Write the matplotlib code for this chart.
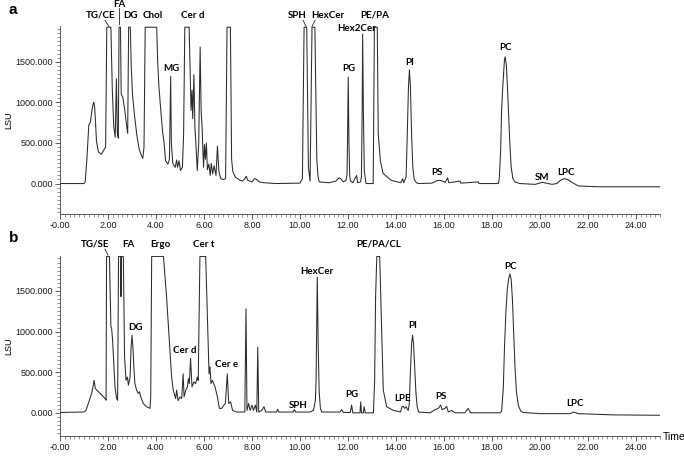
import matplotlib
matplotlib.use('Agg')
import matplotlib.pyplot as plt
from matplotlib.ticker import MultipleLocator, FixedLocator, FixedFormatter

# detector ceiling (flat-topped peaks)
SAT = 1925

# panel a trace: (time in min, LSU)
trace_a = [
    (0.0, 0), (1.0, 0), (1.05, 20), (1.12, 300), (1.2, 720), (1.27, 760), (1.33, 900),
    (1.38, 980), (1.41, 1000), (1.44, 950), (1.48, 760), (1.52, 520), (1.6, 390), (1.72, 360),
    (1.82, 410), (1.9, 450),
    (1.95, SAT), (2.12, SAT), (2.18, 1150), (2.24, 700), (2.3, 570), (2.35, 1290), (2.39, 620),
    (2.43, 560), (2.46, SAT), (2.52, SAT), (2.55, 1100), (2.62, 1060), (2.7, 900), (2.78, 700),
    (2.82, 620), (2.86, SAT), (2.93, SAT), (2.97, 1430), (3.02, 1100), (3.1, 850), (3.2, 600),
    (3.3, 420), (3.4, 340), (3.45, 310), (3.5, 450), (3.55, SAT), (4.03, SAT), (4.07, 1500),
    (4.12, 1200), (4.2, 900), (4.28, 620), (4.33, 520), (4.4, 280), (4.5, 240), (4.56, 300),
    (4.61, 1320), (4.64, 500), (4.7, 250), (4.8, 200), (4.86, 290), (4.9, 200), (4.96, 280),
    (5.02, 160), (5.1, 200), (5.15, 600), (5.2, SAT), (5.38, SAT), (5.42, 1430), (5.46, 900),
    (5.5, 1150), (5.53, 800), (5.58, 1340), (5.62, 700), (5.66, 500), (5.72, 160), (5.78, 500),
    (5.84, 1680), (5.88, 900), (5.92, 700), (5.98, 200), (6.02, 480), (6.06, 300), (6.1, 500),
    (6.14, 170), (6.2, 240), (6.26, 100), (6.3, 250), (6.36, 120), (6.42, 220), (6.5, 100),
    (6.56, 460), (6.62, 150), (6.7, 60), (6.8, 50), (6.9, 60), (6.96, SAT), (7.1, SAT),
    (7.15, 300), (7.2, 150), (7.3, 80), (7.5, 40), (7.6, 30), (7.7, 60), (7.76, 90), (7.82, 40),
    (8.0, 20), (8.1, 60), (8.2, 50), (8.3, 20), (8.5, 10), (9.0, 0), (10.0, 5), (10.1, 60),
    (10.17, SAT), (10.28, SAT), (10.35, 200), (10.42, 30), (10.5, SAT), (10.62, SAT), (10.7, 300),
    (10.75, 90), (10.8, 20), (11.0, 15), (11.2, 10), (11.5, 30), (11.62, 70), (11.7, 60),
    (11.8, 20), (11.92, 40), (11.96, 120), (11.98, 500), (12.01, 1310), (12.04, 500),
    (12.07, 100), (12.1, 30), (12.2, 10), (12.36, 100), (12.4, 10), (12.52, 20), (12.56, 80),
    (12.59, 900), (12.61, 1840), (12.64, 900), (12.68, 150), (12.75, 0), (13.05, 0),
    (13.1, SAT), (13.22, SAT), (13.26, 610), (13.35, 280), (13.46, 125), (13.8, 40), (14.2, 10),
    (14.28, 60), (14.32, 10), (14.42, 80), (14.47, 600), (14.52, 1200), (14.56, 1400),
    (14.6, 1200), (14.65, 600), (14.7, 200), (14.76, 50), (14.85, 10), (14.95, 0), (15.5, 5),
    (15.7, 35), (15.85, 40), (16.05, 15), (16.15, 70), (16.2, 10), (16.67, 30), (16.7, 5),
    (17.43, 20), (17.46, 0), (18.26, 0), (18.3, 50), (18.36, 400), (18.4, 900), (18.44, 1150),
    (18.48, 1350), (18.52, 1530), (18.55, 1560), (18.6, 1450), (18.65, 1150), (18.7, 800),
    (18.75, 450), (18.8, 200), (18.87, 60), (18.95, 20), (19.17, 0), (19.8, -10), (20.1, 15),
    (20.5, -10), (20.7, 0), (20.85, 40), (21.0, 60), (21.15, 50), (21.3, 20), (21.6, -30),
    (22.5, -40), (25.0, -40),
]

# panel b trace: (time in min, LSU)
trace_b = [
    (0.0, 5), (1.0, 10), (1.08, 30), (1.18, 115), (1.32, 240), (1.38, 330), (1.42, 400),
    (1.47, 300), (1.6, 260), (1.74, 220), (1.88, 175), (1.92, 155), (1.94, SAT), (2.06, SAT),
    (2.12, 1060), (2.15, 1040), (2.19, 900), (2.29, 320), (2.36, 175), (2.4, 155), (2.44, SAT),
    (2.53, SAT), (2.54, 1430), (2.56, SAT), (2.64, SAT), (2.69, 690), (2.75, 400), (2.81, 440),
    (2.85, 340), (2.92, 440), (2.96, 800), (3.0, 955), (3.04, 800), (3.08, 550), (3.12, 360),
    (3.19, 280), (3.26, 240), (3.31, 260), (3.36, 200), (3.47, 115), (3.61, 75), (3.75, 55),
    (3.78, 200), (3.82, SAT), (4.31, SAT), (4.44, 1430), (4.58, 770), (4.65, 440), (4.72, 280),
    (4.82, 175), (4.86, 280), (4.92, 150), (5.0, 195), (5.07, 175), (5.13, 480), (5.17, 195),
    (5.24, 280), (5.31, 320), (5.35, 420), (5.39, 360), (5.44, 670), (5.5, 320), (5.58, 380),
    (5.65, 360), (5.72, 440), (5.76, 400), (5.83, SAT), (6.07, SAT), (6.14, 1220), (6.21, 480),
    (6.25, 565), (6.29, 360), (6.35, 400), (6.46, 320), (6.56, 195), (6.64, 55), (6.74, 55),
    (6.83, 95), (6.89, 115), (6.97, 480), (7.03, 115), (7.11, 135), (7.19, 30), (7.36, 10),
    (7.7, 10), (7.75, 1280), (7.79, 30), (7.86, 115), (7.92, 30), (8.0, 95), (8.06, 30),
    (8.14, 95), (8.2, 10), (8.24, 810), (8.28, 10), (8.4, 30), (8.5, 75), (8.57, 10),
    (9.03, 10), (9.07, 45), (9.12, 10), (9.72, 10), (9.76, 40), (9.83, 10), (10.42, 10),
    (10.56, 30), (10.64, 150), (10.67, 400), (10.72, 1670), (10.76, 800), (10.8, 250),
    (10.85, 60), (10.9, 10), (11.67, 10), (11.74, 40), (11.8, 5), (12.1, 5), (12.15, 95),
    (12.2, 0), (12.5, 0), (12.53, 135), (12.56, 0), (12.64, 0), (12.67, 75), (12.72, 0),
    (13.06, 0), (13.11, 400), (13.15, 1430), (13.2, SAT), (13.32, SAT), (13.4, 1020),
    (13.47, 280), (13.61, 75), (13.89, 30), (14.19, 10), (14.25, 75), (14.3, 80), (14.36, 55),
    (14.42, 75), (14.51, 30), (14.55, 100), (14.6, 500), (14.65, 850), (14.69, 955),
    (14.73, 850), (14.78, 550), (14.83, 250), (14.88, 80), (14.94, 10), (15.42, 0), (15.63, 40),
    (15.76, 55), (15.86, 95), (15.92, 40), (16.04, 55), (16.11, 80), (16.18, 10), (16.32, 30),
    (16.46, 0), (16.87, 0), (17.01, 55), (17.1, 0), (18.33, 0), (18.4, 20), (18.47, 300),
    (18.52, 800), (18.58, 1250), (18.64, 1530), (18.7, 1660), (18.75, 1710), (18.8, 1640),
    (18.85, 1400), (18.9, 1000), (18.96, 550), (19.02, 250), (19.1, 90), (19.2, 20),
    (19.3, 5), (20.0, -10), (21.25, -10), (21.4, 10), (21.6, -10), (23.0, -25), (25.0, -30),
]

# peak names and where they are written (time, LSU)
names_a = ['TG/CE', 'FA', 'DG', 'Chol', 'Cer d', 'MG', 'SPH', 'HexCer', 'Hex2Cer',
           'PE/PA', 'PG', 'PI', 'PS', 'PC', 'SM', 'LPC']
pos_a = [(1.71, 2075), (2.46, 2210), (2.92, 2075), (3.88, 2075), (5.54, 2075), (4.63, 1420),
         (9.88, 2075), (11.17, 2075), (12.38, 1915), (13.13, 2075), (12.04, 1420),
         (14.58, 1485), (15.71, 140), (18.58, 1670), (20.08, 70), (21.08, 130)]

names_b = ['TG/SE', 'FA', 'Ergo', 'Cer t', 'DG', 'Cer d', 'Cer e', 'SPH', 'HexCer', 'PG',
           'PE/PA/CL', 'LPE', 'PI', 'PS', 'PC', 'LPC']
pos_b = [(1.46, 2075), (2.83, 2075), (4.17, 2075), (6.0, 2075), (3.13, 1055), (5.21, 770),
         (6.92, 590), (9.92, 95), (10.71, 1745), (12.17, 230), (13.29, 2075), (14.29, 180),
         (14.71, 1070), (15.88, 195), (18.79, 1805), (21.46, 120)]

# leader lines from label to peak: ((t0, y0), (t1, y1))
leaders_a = [((1.875, 2010), (2.04, 1935)), ((2.46, 2160), (2.46, 1960)),
             ((10.13, 2010), (10.25, 1935)), ((10.63, 2010), (10.5, 1935))]
leaders_b = [((1.875, 2015), (2.0, 1940))]

x_ticks = [0, 2, 4, 6, 8, 10, 12, 14, 16, 18, 20, 22, 24]
x_ticklabels = ['-0.00', '2.00', '4.00', '6.00', '8.00', '10.00', '12.00', '14.00',
                '16.00', '18.00', '20.00', '22.00', '24.00']
y_ticks = [0, 500, 1000, 1500]
y_ticklabels = ['0.000', '500.000', '1000.000', '1500.000']

W, H = 684, 458
fig = plt.figure(figsize=(W / 100, H / 100), dpi=100)
ax_a = fig.add_axes([60 / W, 1 - 214 / H, 600 / W, 188 / H])
ax_b = fig.add_axes([60 / W, 1 - 436 / H, 600 / W, 180 / H])

tick_font = dict(family='Liberation Sans', size=6.5)
label_font = dict(family='Lato', weight='bold', size=7)


def draw_panel(ax, trace, names, pos, leaders, ylim, letter, letter_y):
    t = [p[0] for p in trace]
    v = [p[1] for p in trace]
    ax.plot(t, v, color='#2b2b2b', lw=0.75)
    ax.set_xlim(0, 25)
    ax.set_ylim(*ylim)

    for s in ['top', 'right']:
        ax.spines[s].set_visible(False)
    for s in ['left', 'bottom']:
        ax.spines[s].set_color('#444444')
        ax.spines[s].set_linewidth(0.6)

    ax.xaxis.set_major_locator(FixedLocator(x_ticks))
    ax.xaxis.set_major_formatter(FixedFormatter(x_ticklabels))
    ax.xaxis.set_minor_locator(MultipleLocator(0.2))
    ax.yaxis.set_major_locator(FixedLocator(y_ticks))
    ax.yaxis.set_major_formatter(FixedFormatter(y_ticklabels))
    ax.yaxis.set_minor_locator(MultipleLocator(50))
    ax.tick_params(which='major', length=3.5, width=0.6, color='#444444', pad=1.5,
                   labelsize=6.5, labelcolor='#1a1a1a')
    ax.tick_params(which='minor', length=2, width=0.5, color='#666666')
    for lab in ax.get_xticklabels() + ax.get_yticklabels():
        lab.set_fontfamily('Liberation Sans')

    ax.set_ylabel('LSU', fontdict=tick_font)
    ax.yaxis.set_label_coords(-0.078, 0.5)

    for name, (x, y) in zip(names, pos):
        ax.text(x, y, name, ha='center', va='center', clip_on=False, **label_font)
    for (x0, y0), (x1, y1) in leaders:
        ax.plot([x0, x1], [y0, y1], color='#222222', lw=0.6, clip_on=False)

    ax.text(-0.078, letter_y, letter, transform=ax.transAxes, ha='center', va='center',
            fontsize=11, fontweight='bold', family='Liberation Sans')


draw_panel(ax_a, trace_a, names_a, pos_a, leaders_a, (-375, 1940), 'a', 1.085)
draw_panel(ax_b, trace_b, names_b, pos_b, leaders_b, (-285, 1930), 'b', 1.1)

fig.text(674 / W, 1 - 437 / H, 'Time', ha='center', va='center',
         family='Liberation Sans', size=7.5)

fig.savefig('out.png', dpi=100)
